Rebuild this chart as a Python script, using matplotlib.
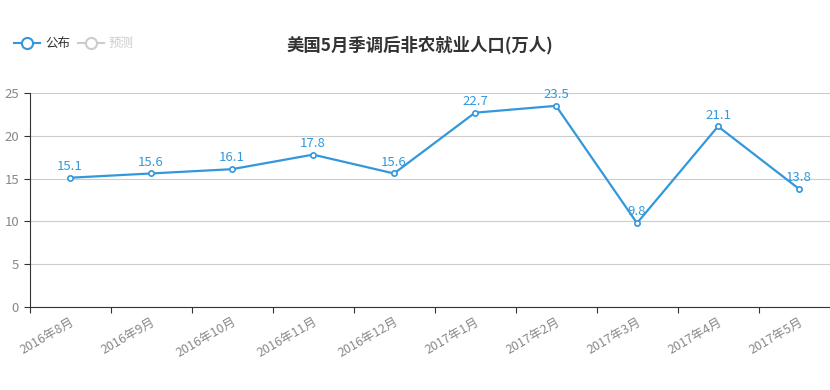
import matplotlib.pyplot as plt
from matplotlib.lines import Line2D
import numpy as np

plt.rcParams['font.family'] = ['Noto Sans CJK SC', 'DejaVu Sans']

months = ['2016年8月', '2016年9月', '2016年10月', '2016年11月', '2016年12月',
          '2017年1月', '2017年2月', '2017年3月', '2017年4月', '2017年5月']
published = [15.1, 15.6, 16.1, 17.8, 15.6, 22.7, 23.5, 9.8, 21.1, 13.8]
yticks = [0, 5, 10, 15, 20, 25]

blue = '#3398DB'
W, H = 830, 390
fig = plt.figure(figsize=(W / 100, H / 100), dpi=100)
# axis runs past the right edge like the original
ax = fig.add_axes([29.5 / W, (H - 307) / H, 810 / W, 214 / H])

x = np.arange(len(months))
ax.plot(x, published, color=blue, lw=1.6, marker='o', ms=3.8,
        markerfacecolor='white', markeredgecolor=blue, markeredgewidth=1.2,
        zorder=3, clip_on=False)
for xi, v in zip(x, published):
    ax.annotate(f'{v}', (xi, v), xytext=(0, 3.5), textcoords='offset points',
                ha='center', va='bottom', color=blue, fontsize=9.5)

ax.set_xlim(-0.5, len(months) - 0.5)
ax.set_ylim(0, 25)
ax.set_yticks(yticks)
ax.grid(axis='y', color='#cccccc', lw=0.8)
ax.set_axisbelow(True)
ax.set_xticks(np.arange(-0.5, len(months), 1))
ax.set_xticklabels([])
ax.set_xticks(x, minor=True)
ax.set_xticklabels(months, minor=True, rotation=30, ha='right', va='top',
                   rotation_mode='anchor', color='#888888', fontsize=9)
ax.tick_params(axis='x', which='minor', length=0, pad=6)
ax.tick_params(axis='x', which='major', length=4, color='#333333', direction='out')
ax.tick_params(axis='y', length=4, color='#333333', labelcolor='#888888', labelsize=9.5)
for s in ['top', 'right']:
    ax.spines[s].set_visible(False)
ax.spines['left'].set_color('#333333')
ax.spines['bottom'].set_color('#333333')

fig.text(420 / W, 1 - 45 / H, '美国5月季调后非农就业人口(万人)', ha='center', va='center',
         fontsize=12.5, fontweight='bold', color='#333333')

# legend drawn by hand
for x0, col, label, tcol in [(14, blue, '公布', '#333333'), (78, '#cccccc', '预测', '#cccccc')]:
    yl = 1 - 43 / H
    fig.add_artist(Line2D([x0 / W, (x0 + 26) / W], [yl, yl], color=col, lw=1.5,
                          transform=fig.transFigure))
    fig.add_artist(Line2D([(x0 + 13) / W], [yl], marker='o', ms=8, color=col,
                          markerfacecolor='white', markeredgewidth=1.5,
                          transform=fig.transFigure))
    fig.text((x0 + 31) / W, yl, label, ha='left', va='center', fontsize=9, color=tcol)

fig.savefig('out.png', dpi=100)
